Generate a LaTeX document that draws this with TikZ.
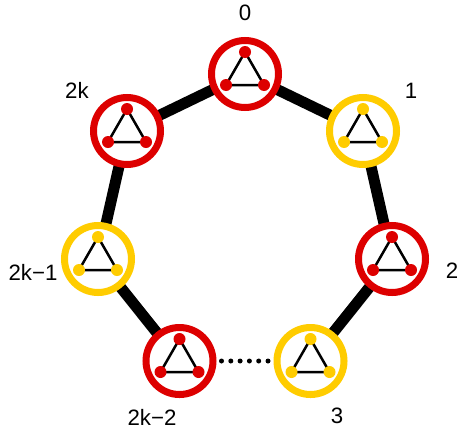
\documentclass[tikz,border=0pt]{standalone}
\usepackage{fontspec}
\setmainfont{Liberation Sans}
\usepackage{xcolor}
\usepackage{tikz}
\usetikzlibrary{backgrounds}
\definecolor{ringred}{RGB}{221,0,0}
\definecolor{ringyellow}{RGB}{255,204,0}
\begin{document}
\begin{tikzpicture}[x=0.03cm, y=0.03cm,
  ring/.style={circle, draw=#1, line width=0.21cm, fill=white, minimum size=2.01cm, inner sep=0pt},
  link/.style={line width=0.33cm},
  dots/.style={line width=0.15cm, line cap=round, dash pattern=on 0pt off 0.279cm, shorten <=0.15cm, shorten >=0.15cm},
  edge/.style={line width=0.075cm},
  lab/.style={inner sep=0pt, font=\fontsize{19}{21}\selectfont},
  pics/triad/.style={code={
    \draw[edge] (0,22) -- (-19,-11) -- (19,-11) -- cycle;
    \fill[#1] (0,22) circle[radius=0.18cm] (-19,-11) circle[radius=0.18cm] (19,-11) circle[radius=0.18cm];
  }}]
\useasboundingbox (0,0) rectangle (458,434);
\node[ring=ringred] (c0) at (245,360) {};
\node[ring=ringyellow] (c1) at (363,303) {};
\node[ring=ringred] (c2) at (392,175) {};
\node[ring=ringyellow] (c3) at (310.5,73) {};
\node[ring=ringred] (c4) at (179.5,73) {};
\node[ring=ringyellow] (c5) at (98,175) {};
\node[ring=ringred] (c6) at (127,303) {};
\pic at (c0) {triad=ringred};
\pic at (c1) {triad=ringyellow};
\pic at (c2) {triad=ringred};
\pic at (c3) {triad=ringyellow};
\pic at (c4) {triad=ringred};
\pic at (c5) {triad=ringyellow};
\pic at (c6) {triad=ringred};
\begin{scope}[on background layer]
\draw[link] (c0.center) -- (c1.center) -- (c2.center) -- (c3.center);
\draw[link] (c4.center) -- (c5.center) -- (c6.center) -- (c0.center);
\end{scope}
\draw[dots] (c4) -- (c3);
\node[lab] (l0) at (245,421.5) {0};
\node[lab] (l1) at (411,343) {1};
\node[lab] (l2) at (452,163) {2};
\node[lab] (l3) at (337,18) {3};
\node[lab] (l4) at (152,17) {2k−2};
\node[lab] (l5) at (33,162) {2k−1};
\node[lab] (l6) at (77,344) {2k};
\end{tikzpicture}
\end{document}
